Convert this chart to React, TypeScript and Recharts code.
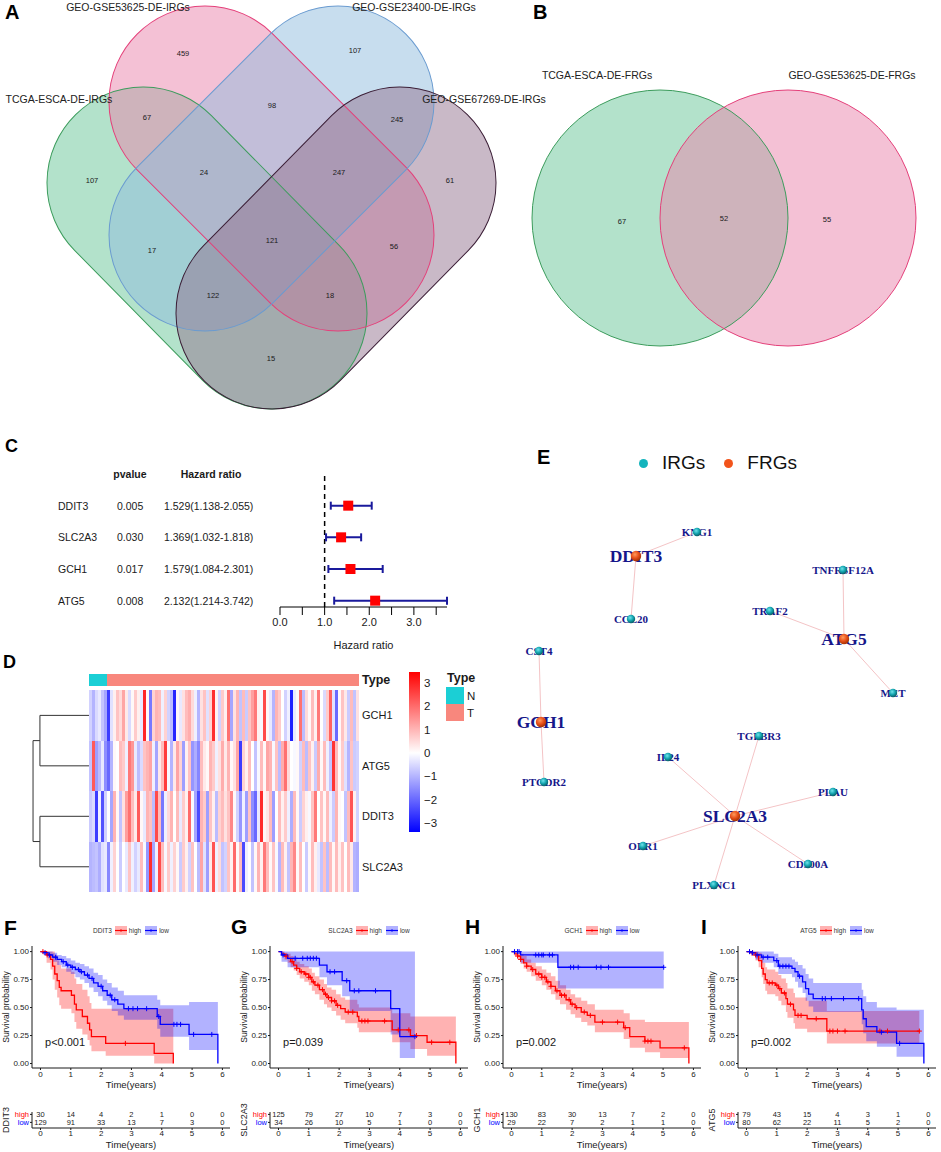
import React from 'react'
import {
  ScatterChart, Scatter, ComposedChart, Line, Area, BarChart, Bar, Cell,
  XAxis, YAxis, ReferenceLine, ErrorBar, Legend,
} from 'recharts'

const SANS = '"Liberation Sans", Arial, Helvetica, sans-serif'
const SERIF = '"Liberation Serif", "Times New Roman", Times, serif'
const INK = '#1a1a1a'

// ---------------- A: four-set venn ----------------
const VENN4_NAMES = ['TCGA-ESCA-DE-IRGs', 'GEO-GSE53625-DE-IRGs', 'GEO-GSE23400-DE-IRGs', 'GEO-GSE67269-DE-IRGs']
// regions: T=TCGA, P=GSE53625, B=GSE23400, D=GSE67269
const VENN4_REGIONS = ['P', 'B', 'TP', 'PB', 'BD', 'T', 'TPB', 'PBD', 'D', 'TPBD', 'TB', 'PD', 'TBD', 'TPD', 'TD']
const VENN4_COUNTS = [459, 107, 67, 98, 245, 107, 24, 247, 61, 121, 17, 56, 122, 18, 15]

// ---------------- B: two-set venn ----------------
const VENN2_NAMES = ['TCGA-ESCA-DE-FRGs', 'GEO-GSE53625-DE-FRGs']
const VENN2_COUNTS = [67, 52, 55]

// ---------------- C: forest plot ----------------
const FOREST_GENES = ['DDIT3', 'SLC2A3', 'GCH1', 'ATG5']
const FOREST_P = ['0.005', '0.030', '0.017', '0.008']
const FOREST_HR = [1.529, 1.369, 1.579, 2.132]
const FOREST_LOW = [1.138, 1.032, 1.084, 1.214]
const FOREST_HIGH = [2.055, 1.818, 2.301, 3.742]
const FOREST_TICKS = [0, 0.5, 1, 1.5, 2, 2.5, 3, 3.5]

// ---------------- D: heatmap (z-scores, one stripe per ~2 samples) ----------------
const HM_GENES = ['GCH1', 'ATG5', 'DDIT3', 'SLC2A3']
const HM_N_COLS = 6
const HM_GCH1 = [
  -0.6, -1.0, -0.5, -0.3, -0.8, -1.2, -2.6, -0.4, 0.2, 0.8, 0.5, 1.2, 0.3, -0.5, 0.1, 0.7, 0.2, -0.3, 2.9, 0.1, -1.8, 0.6, 1.0, 0.9, -0.2, 0.6, -0.6, -0.9, -2.9, 0.1, -0.3, 0.4, 0.9, 1.1, 0.5, -0.2, -1.0, 0.4, 0.8, -0.4, 0.6, 2.8, 0.2, -0.6, 0.7,
  0.2, 1.9, -1.2, 0.4, 1.0, -0.8, 0.9, -0.7, 0.8, 1.3, 1.8, 0.2, -0.1, 2.4, 0.1, -0.3, -1.0, 1.0, 0.7, 0.0, -0.6, -0.2, -3.0, -0.3, 0.1, 1.9, -0.9, 0.5, 0.1, 0.9, 0.2, 1.8, 0.0, -0.5, 0.7, 2.1, -0.4, -2.0, 0.1, 0.8, 0.3, -0.7, 0.9, -0.8, 0.4,
]
const HM_ATG5 = [
  -0.8, 2.2, -1.3, -0.9, -0.3, -1.5, -2.0, -1.0, 0.1, 0.0, 0.9, 0.7, -0.2, 1.8, 1.4, -0.3, -0.9, -0.5, 0.8, 1.0, 1.2, -0.2, -1.2, 0.3, 0.9, 2.6, -0.1, -1.0, 0.3, 1.2, 0.6, -1.3, 0.2, 0.8, -1.4, -1.1, -1.6, 0.9, 0.3, 0.1, 1.0, 0.7, -0.2, 0.4, 1.1,
  0.3, 1.0, 0.1, 0.4, 1.2, -2.6, 0.6, 0.2, 0.9, 0.0, -0.8, -0.1, 0.9, 0.1, 1.2, 1.0, -0.1, 0.8, -0.9, 1.1, 1.9, 0.5, 0.0, -0.1, 0.1, -0.6, 0.9, -0.9, 0.8, 0.2, -0.7, 1.1, 0.1, 0.9, -0.2, -0.8, 2.7, 0.9, 0.1, 0.7, -0.4, -1.0, 0.8, -0.7, -0.6,
]
const HM_DDIT3 = [
  -0.7, -0.5, -2.6, -0.2, -2.3, -0.6, 0.0, -1.2, 1.0, 0.1, -0.8, 0.4, 1.3, 1.9, 0.9, 0.3, 2.2, 0.1, -0.3, 1.0, 0.8, -0.9, 2.4, 0.9, -1.8, -0.2, 0.5, 1.0, 0.0, 0.9, -0.3, 0.7, 0.2, 2.0, -0.1, -1.2, -2.4, 1.0, 0.7, -1.3, 0.8, 0.2, -0.9, 0.6, 0.9,
  0.4, 0.8, 1.6, 0.1, -0.6, -1.4, -0.2, -1.3, 0.8, -1.5, -2.0, -0.3, 2.8, 0.1, 0.3, 0.9, -1.3, 0.0, 0.9, 0.2, 0.7, -0.2, -1.1, 0.9, 0.1, -0.7, 0.6, 0.2, -0.1, 0.8, 1.8, 0.0, 0.8, 0.1, 0.9, -0.2, -0.7, 1.0, 0.1, 0.0, -0.8, 0.9, 2.3, 0.2, -0.6,
]
const HM_SLC2A3 = [
  -1.0, -0.9, -0.8, -1.1, -0.4, -0.3, -1.6, -0.2, 0.6, 0.0, -0.7, 0.0, -0.3, 0.8, -0.2, -0.6, -0.3, 0.9, -0.1, -1.4, 2.8, -1.2, -0.2, 2.4, 0.9, -0.1, 0.7, -0.2, 0.6, 0.1, -0.7, 0.7, 0.2, -0.6, 0.8, 0.0, -0.9, 1.2, -0.4, -1.3, 0.3, 2.3, -0.2, 0.5, -0.8,
  -0.6, 0.8, 0.2, 2.0, 0.1, 0.9, -2.4, -0.2, 0.0, -0.8, 0.1, 1.0, 0.2, 1.8, 0.9, 0.1, 0.8, -0.1, -1.0, 0.9, 0.2, -0.8, 1.0, 1.6, 0.1, 0.9, 0.0, -0.7, 0.1, 0.9, 0.2, -0.3, -0.8, 0.8, -0.9, 0.9, 0.1, 0.9, 0.2, 0.8, 0.0, 0.9, 0.3, -1.0, -1.1,
]
const HM_SCALE_TICKS = [-3, -2, -1, 0, 1, 2, 3]
// cluster merge heights (GCH1+ATG5, DDIT3+SLC2A3, root)
const HM_DENDRO = [1.92, 1.92, 2.19]

// ---------------- E: network ----------------
const NET_NODES = ['KNG1', 'DDIT3', 'CCL20', 'TNFRSF12A', 'TRAF2', 'ATG5', 'MET', 'CST4', 'GCH1', 'PTGDR2', 'TGFBR3', 'IL24', 'PLAU', 'SLC2A3', 'OLR1', 'CD300A', 'PLXNC1']
const NET_FRGS = ['DDIT3', 'ATG5', 'GCH1', 'SLC2A3']
const NET_EDGES = [
  ['DDIT3', 'KNG1'], ['DDIT3', 'CCL20'], ['ATG5', 'TNFRSF12A'], ['ATG5', 'TRAF2'], ['ATG5', 'MET'],
  ['GCH1', 'CST4'], ['GCH1', 'PTGDR2'], ['SLC2A3', 'TGFBR3'], ['SLC2A3', 'IL24'], ['SLC2A3', 'PLAU'],
  ['SLC2A3', 'OLR1'], ['SLC2A3', 'CD300A'], ['SLC2A3', 'PLXNC1'],
]
// force layout coordinates of the nodes (same order as NET_NODES)
const NET_LAYOUT = [
  [217, 112], [156, 136], [151, 199], [363, 150], [290, 191], [364, 219], [413, 273], [59, 231], [61, 302],
  [64, 362], [279, 316], [188, 337], [353, 372], [255, 396], [163, 426], [328, 444], [234, 465],
]

// ---------------- F-I: Kaplan-Meier ([time, surv, lower, upper]) ----------------
const KM_TIMES = [0, 1, 2, 3, 4, 5, 6]
const KM_GROUPS = ['high', 'low']

const DDIT3_HIGH = [
  [0, 1, 1, 1], [0.2, 0.97, 0.9, 1], [0.33, 0.93, 0.84, 1], [0.4, 0.87, 0.75, 1], [0.47, 0.8, 0.66, 0.97],
  [0.55, 0.74, 0.59, 0.92], [0.62, 0.68, 0.52, 0.88], [0.68, 0.65, 0.49, 0.85], [1.02, 0.61, 0.45, 0.82],
  [1.12, 0.53, 0.37, 0.76], [1.18, 0.48, 0.31, 0.71], [1.38, 0.42, 0.26, 0.66], [1.55, 0.36, 0.21, 0.6],
  [1.62, 0.3, 0.16, 0.54], [1.68, 0.24, 0.11, 0.49], [2.15, 0.18, 0.07, 0.49], [3.75, 0.09, 0.0, 0.49], [4.38, 0, 0, 0],
]
const DDIT3_LOW = [
  [0, 1, 1, 1], [0.1, 0.99, 0.97, 1], [0.25, 0.97, 0.94, 1], [0.4, 0.95, 0.91, 0.99], [0.55, 0.93, 0.88, 0.97],
  [0.7, 0.91, 0.86, 0.96], [0.85, 0.88, 0.82, 0.94], [1.0, 0.86, 0.8, 0.92], [1.15, 0.84, 0.77, 0.9],
  [1.3, 0.82, 0.75, 0.89], [1.45, 0.79, 0.72, 0.87], [1.6, 0.76, 0.68, 0.85], [1.75, 0.72, 0.64, 0.81],
  [1.9, 0.69, 0.6, 0.79], [2.05, 0.65, 0.56, 0.75], [2.2, 0.61, 0.52, 0.72], [2.35, 0.57, 0.47, 0.68],
  [2.55, 0.53, 0.43, 0.65], [2.75, 0.49, 0.39, 0.61], [3.85, 0.42, 0.31, 0.57], [3.95, 0.35, 0.24, 0.52],
  [4.9, 0.26, 0.12, 0.55], [5.85, 0, 0, 0],
]
const DDIT3_HIGH_CENSOR = [0.08, 0.22, 2.8]
const DDIT3_LOW_CENSOR = [0.15, 0.3, 0.5, 0.75, 0.9, 1.05, 1.25, 1.35, 1.55, 1.7, 2.0, 2.3, 2.45, 2.9, 3.05, 3.2, 3.5, 3.9, 4.4, 4.5, 4.62, 5.05, 5.65]
const DDIT3_RISK_HIGH = [30, 14, 4, 2, 1, 0, 0]
const DDIT3_RISK_LOW = [129, 91, 33, 13, 7, 3, 0]

const SLC2A3_HIGH = [
  [0, 1, 1, 1], [0.1, 0.98, 0.96, 1], [0.2, 0.96, 0.93, 0.99], [0.3, 0.94, 0.9, 0.98], [0.4, 0.91, 0.86, 0.96],
  [0.5, 0.88, 0.83, 0.94], [0.6, 0.85, 0.79, 0.91], [0.7, 0.82, 0.76, 0.89], [0.85, 0.8, 0.73, 0.87],
  [1.0, 0.77, 0.7, 0.85], [1.1, 0.73, 0.65, 0.81], [1.2, 0.7, 0.62, 0.78], [1.35, 0.66, 0.57, 0.75],
  [1.5, 0.62, 0.53, 0.71], [1.6, 0.59, 0.5, 0.68], [1.75, 0.56, 0.47, 0.66], [1.9, 0.52, 0.43, 0.62],
  [2.05, 0.49, 0.39, 0.59], [2.2, 0.46, 0.36, 0.57], [2.6, 0.42, 0.32, 0.53], [2.65, 0.38, 0.28, 0.5],
  [3.75, 0.3, 0.19, 0.45], [4.35, 0.25, 0.13, 0.42], [4.9, 0.19, 0.07, 0.42], [5.85, 0, 0, 0],
]
const SLC2A3_LOW = [
  [0, 1, 1, 1], [0.1, 0.97, 0.91, 1], [0.3, 0.94, 0.86, 1], [1.35, 0.88, 0.77, 1], [1.6, 0.82, 0.7, 1],
  [2.1, 0.74, 0.6, 1], [2.35, 0.65, 0.47, 1], [3.7, 0.49, 0.26, 1], [4.0, 0.24, 0.05, 1], [4.5, 0.24, 0.05, 1],
]
const SLC2A3_HIGH_CENSOR = [0.25, 0.45, 0.6, 0.75, 0.9, 1.0, 1.05, 1.15, 1.3, 1.45, 1.55, 1.65, 1.75, 1.85, 1.95, 2.3, 2.45, 2.75, 2.85, 2.95, 3.5, 3.95, 4.3, 4.55, 5.05, 5.65]
const SLC2A3_LOW_CENSOR = [0.15, 0.55, 0.8, 0.95, 1.05, 1.15, 1.25, 1.7, 1.85, 2.25, 2.5, 2.65, 3.2, 4.5]
const SLC2A3_RISK_HIGH = [125, 79, 27, 10, 7, 3, 0]
const SLC2A3_RISK_LOW = [34, 26, 10, 5, 1, 0, 0]

const GCH1_HIGH = [
  [0, 1, 1, 1], [0.1, 0.98, 0.96, 1], [0.2, 0.96, 0.93, 0.99], [0.3, 0.93, 0.89, 0.98], [0.4, 0.9, 0.85, 0.96],
  [0.5, 0.87, 0.82, 0.93], [0.65, 0.84, 0.78, 0.9], [0.8, 0.8, 0.74, 0.87], [1.0, 0.77, 0.7, 0.84],
  [1.15, 0.73, 0.66, 0.81], [1.3, 0.69, 0.62, 0.78], [1.45, 0.65, 0.57, 0.74], [1.6, 0.61, 0.53, 0.7],
  [1.8, 0.57, 0.48, 0.66], [1.95, 0.53, 0.44, 0.62], [2.1, 0.5, 0.41, 0.59], [2.3, 0.46, 0.37, 0.56],
  [2.5, 0.43, 0.34, 0.53], [2.75, 0.37, 0.28, 0.48], [3.7, 0.32, 0.22, 0.45], [3.9, 0.24, 0.14, 0.39],
  [4.4, 0.2, 0.1, 0.37], [4.9, 0.14, 0.05, 0.37], [5.85, 0, 0, 0],
]
const GCH1_LOW = [[0, 1, 1, 1], [0.3, 0.97, 0.9, 1], [1.53, 0.86, 0.67, 1], [5.02, 0.86, 0.67, 1]]
const GCH1_HIGH_CENSOR = [0.2, 0.3, 0.5, 0.7, 0.9, 1.0, 1.1, 1.2, 1.3, 1.5, 1.65, 1.75, 1.9, 2.0, 2.15, 2.4, 2.6, 3.0, 3.5, 3.75, 4.4, 4.5, 4.6, 5.7]
const GCH1_LOW_CENSOR = [0.1, 0.2, 0.25, 0.8, 0.9, 1.0, 1.05, 1.25, 1.35, 1.95, 2.05, 2.2, 2.8, 2.95, 3.2, 5.02]
const GCH1_RISK_HIGH = [130, 83, 30, 13, 7, 2, 0]
const GCH1_RISK_LOW = [29, 22, 7, 2, 1, 1, 0]

const ATG5_HIGH = [
  [0, 1, 1, 1], [0.15, 0.99, 0.96, 1], [0.3, 0.97, 0.92, 1], [0.4, 0.92, 0.86, 0.99], [0.5, 0.85, 0.77, 0.94],
  [0.55, 0.8, 0.71, 0.9], [0.62, 0.75, 0.65, 0.86], [0.68, 0.72, 0.62, 0.84], [0.95, 0.7, 0.6, 0.82],
  [1.05, 0.67, 0.56, 0.79], [1.15, 0.63, 0.52, 0.76], [1.3, 0.58, 0.46, 0.72], [1.35, 0.53, 0.41, 0.67],
  [1.55, 0.48, 0.36, 0.63], [1.6, 0.43, 0.31, 0.59], [2.0, 0.4, 0.28, 0.56], [2.65, 0.29, 0.18, 0.47],
  [5.7, 0.29, 0.18, 0.47],
]
const ATG5_LOW = [
  [0, 1, 1, 1], [0.15, 0.99, 0.97, 1], [0.3, 0.97, 0.93, 1], [0.5, 0.95, 0.9, 1], [0.9, 0.92, 0.86, 0.98],
  [1.05, 0.87, 0.8, 0.95], [1.5, 0.85, 0.77, 0.93], [1.6, 0.82, 0.73, 0.91], [1.7, 0.78, 0.68, 0.88],
  [1.85, 0.73, 0.63, 0.85], [1.95, 0.67, 0.56, 0.8], [2.05, 0.62, 0.51, 0.76], [2.2, 0.58, 0.46, 0.72],
  [3.8, 0.48, 0.35, 0.66], [3.85, 0.4, 0.27, 0.6], [3.95, 0.33, 0.2, 0.55], [4.3, 0.28, 0.15, 0.5],
  [4.95, 0.18, 0.06, 0.48], [5.85, 0, 0, 0],
]
const ATG5_HIGH_CENSOR = [0.1, 0.2, 0.3, 0.75, 0.85, 1.0, 1.1, 1.25, 1.45, 1.7, 1.8, 2.3, 2.75, 2.85, 3.0, 3.25, 4.4, 4.65, 5.7]
const ATG5_LOW_CENSOR = [0.1, 0.2, 0.35, 0.55, 0.7, 1.0, 1.1, 1.2, 1.3, 1.4, 1.75, 2.5, 2.6, 2.8, 3.2, 3.7, 4.45, 5.05]
const ATG5_RISK_HIGH = [79, 43, 15, 4, 3, 1, 0]
const ATG5_RISK_LOW = [80, 62, 22, 11, 5, 2, 0]

const KM_PANELS = [
  { gene: 'DDIT3', p: 'p<0.001', high: DDIT3_HIGH, low: DDIT3_LOW, highCens: DDIT3_HIGH_CENSOR, lowCens: DDIT3_LOW_CENSOR, riskHigh: DDIT3_RISK_HIGH, riskLow: DDIT3_RISK_LOW },
  { gene: 'SLC2A3', p: 'p=0.039', high: SLC2A3_HIGH, low: SLC2A3_LOW, highCens: SLC2A3_HIGH_CENSOR, lowCens: SLC2A3_LOW_CENSOR, riskHigh: SLC2A3_RISK_HIGH, riskLow: SLC2A3_RISK_LOW },
  { gene: 'GCH1', p: 'p=0.002', high: GCH1_HIGH, low: GCH1_LOW, highCens: GCH1_HIGH_CENSOR, lowCens: GCH1_LOW_CENSOR, riskHigh: GCH1_RISK_HIGH, riskLow: GCH1_RISK_LOW },
  { gene: 'ATG5', p: 'p=0.002', high: ATG5_HIGH, low: ATG5_LOW, highCens: ATG5_HIGH_CENSOR, lowCens: ATG5_LOW_CENSOR, riskHigh: ATG5_RISK_HIGH, riskLow: ATG5_RISK_LOW },
]

// ---------------- layout / style ----------------
const VENN4_W = 560
const VENN4_H = 410
const VENN4_GEOM = [[143, 183, 271, 313], [205, 102, 338, 235], [338, 102, 205, 235], [400, 183, 272, 313]]
const VENN4_R = 96
const VENN4_FILL = ['#67C597', '#E983AB', '#8FBBDD', '#93738F']
const VENN4_STROKE = ['#3C9C5C', '#E4407A', '#6A9BD0', '#3B1E36']
const VENN4_NAME_POS = [[59, 99], [128, 7], [414, 7], [484, 99]]
const VENN4_COUNT_POS = [[183, 53], [355, 50], [147, 117], [272, 105], [397, 119], [92, 180], [204, 172], [339, 172], [450, 180], [272, 240], [152, 250], [394, 246], [213, 295], [330, 295], [271, 358]]

const VENN2_W = 461
const VENN2_H = 410
const VENN2_GEOM = [[180, 218], [308, 218]]
const VENN2_R = 128
const VENN2_NAME_POS = [[117, 75], [372, 75]]
const VENN2_COUNT_POS = [[142, 221], [244, 218], [347, 219]]

const NET_W = 461
const NET_H = 475
const KM_LEFTS = [0, 238, 471, 706]
const KM_DOMAIN: [number, number] = [-0.28, 6.25]
const KM_COLORS = ['#FF0000', '#0000FF']
const TYPE_COLORS = { N: '#1BCFD5', T: '#F8877D' }
// risk-table row positions on its small y scale (high above low)
const RISK_ROW_Y = [1.7, 0.7]

const heatColor = (v: number) => {
  const t = Math.min(Math.abs(v) / 3.4, 1)
  const c = Math.round(255 * (1 - t))
  return v >= 0 ? `rgb(255,${c},${c})` : `rgb(${c},${c},255)`
}

const labelShape = (size: number, extra: any = {}) => (p: any) => (
  <text x={p.cx} y={p.cy} textAnchor="middle" dominantBaseline="central" fontSize={size}
    fontFamily={SANS} fill={INK} {...extra}>{p.payload.label}</text>
)
const noShape = () => <g />

// ---------------- A ----------------
function VennFour() {
  const k = 1 // px per layout unit
  const sets = VENN4_NAMES.map((name, i) => {
    const [x1, y1, x2, y2] = VENN4_GEOM[i]
    return { name, i, x: (x1 + x2) / 2, y: (y1 + y2) / 2 }
  })
  const stadium = (mode: 'fill' | 'line') => (p: any) => {
    const i = p.payload.i
    const [x1, y1, x2, y2] = VENN4_GEOM[i]
    const len = Math.hypot(x2 - x1, y2 - y1) * k
    const r = VENN4_R * k
    const ang = (Math.atan2(y2 - y1, x2 - x1) * 180) / Math.PI
    return (
      <rect x={-len / 2 - r} y={-r} width={len + 2 * r} height={2 * r} rx={r} ry={r}
        transform={`translate(${p.cx},${p.cy}) rotate(${ang})`}
        fill={mode === 'fill' ? VENN4_FILL[i] : 'none'} fillOpacity={0.5}
        stroke={mode === 'line' ? VENN4_STROKE[i] : 'none'} strokeWidth={1} />
    )
  }
  const counts = VENN4_REGIONS.map((r, i) => ({ region: r, label: String(VENN4_COUNTS[i]), x: VENN4_COUNT_POS[i][0], y: VENN4_COUNT_POS[i][1] }))
  const names = VENN4_NAMES.map((n, i) => ({ label: n, x: VENN4_NAME_POS[i][0], y: VENN4_NAME_POS[i][1] }))
  return (
    <ScatterChart width={VENN4_W} height={VENN4_H} margin={{ top: 0, right: 0, bottom: 0, left: 0 }}>
      <XAxis type="number" dataKey="x" domain={[0, VENN4_W]} hide />
      <YAxis type="number" dataKey="y" domain={[0, VENN4_H]} reversed hide />
      <Scatter data={sets} shape={stadium('fill')} isAnimationActive={false} />
      <Scatter data={sets} shape={stadium('line')} isAnimationActive={false} />
      <Scatter data={counts} shape={labelShape(7.5)} isAnimationActive={false} />
      <Scatter data={names} shape={labelShape(10.5, { fill: '#222' })} isAnimationActive={false} />
    </ScatterChart>
  )
}

// ---------------- B ----------------
function VennTwo() {
  const sets = VENN2_NAMES.map((name, i) => ({ name, i, x: VENN2_GEOM[i][0], y: VENN2_GEOM[i][1] }))
  const circle = (mode: 'fill' | 'line') => (p: any) => {
    const i = p.payload.i
    return <circle cx={p.cx} cy={p.cy} r={VENN2_R} fill={mode === 'fill' ? VENN4_FILL[i] : 'none'} fillOpacity={0.5}
      stroke={mode === 'line' ? VENN4_STROKE[i] : 'none'} strokeWidth={1} />
  }
  const counts = VENN2_COUNTS.map((c, i) => ({ label: String(c), x: VENN2_COUNT_POS[i][0], y: VENN2_COUNT_POS[i][1] }))
  const names = VENN2_NAMES.map((n, i) => ({ label: n, x: VENN2_NAME_POS[i][0], y: VENN2_NAME_POS[i][1] }))
  return (
    <ScatterChart width={VENN2_W} height={VENN2_H} margin={{ top: 0, right: 0, bottom: 0, left: 0 }}>
      <XAxis type="number" dataKey="x" domain={[0, VENN2_W]} hide />
      <YAxis type="number" dataKey="y" domain={[0, VENN2_H]} reversed hide />
      <Scatter data={sets} shape={circle('fill')} isAnimationActive={false} />
      <Scatter data={sets} shape={circle('line')} isAnimationActive={false} />
      <Scatter data={counts} shape={labelShape(7.5)} isAnimationActive={false} />
      <Scatter data={names} shape={labelShape(10.5, { fill: '#222' })} isAnimationActive={false} />
    </ScatterChart>
  )
}

// ---------------- C ----------------
function Forest() {
  const rows = FOREST_GENES.map((g, i) => ({
    gene: g, row: i + 1, hr: FOREST_HR[i],
    err: [FOREST_HR[i] - FOREST_LOW[i], FOREST_HIGH[i] - FOREST_HR[i]],
  }))
  const txt = { fontFamily: SANS, fontSize: 10.5, fill: INK, dominantBaseline: 'central' as const }
  const tableTick = (p: any) => {
    const { y, payload } = p
    const v = payload.value
    if (v === 0) {
      return (
        <g>
          <text x={130} y={y} textAnchor="middle" fontWeight="bold" {...txt}>pvalue</text>
          <text x={211} y={y} textAnchor="middle" fontWeight="bold" {...txt}>Hazard ratio</text>
        </g>
      )
    }
    const i = v - 1
    return (
      <g>
        <text x={58} y={y} {...txt}>{FOREST_GENES[i]}</text>
        <text x={117} y={y} {...txt}>{FOREST_P[i]}</text>
        <text x={164} y={y} {...txt}>{`${FOREST_HR[i].toFixed(3)}(${FOREST_LOW[i].toFixed(3)}-${FOREST_HIGH[i].toFixed(3)})`}</text>
      </g>
    )
  }
  const square = (p: any) => <rect x={p.cx - 5} y={p.cy - 5} width={10} height={10} fill="#FF0000" />
  return (
    <ScatterChart width={480} height={237} margin={{ top: 59, right: 33, bottom: 0, left: 0 }}>
      <XAxis type="number" dataKey="hr" domain={[0, 3.5]} ticks={FOREST_TICKS} interval={0}
        tickFormatter={(v: number) => (Number.isInteger(v) ? v.toFixed(1) : '')}
        tickSize={8} tickMargin={3} height={45} stroke="#000" tick={{ fill: INK, fontSize: 11, fontFamily: SANS }}
        label={{ value: 'Hazard ratio', position: 'insideBottom', offset: 3, style: { fill: INK, fontSize: 11, fontFamily: SANS } }} />
      <YAxis type="number" dataKey="row" domain={[0, 4.2]} reversed ticks={[0, 1, 2, 3, 4]} interval={0}
        width={280} axisLine={false} tickLine={false} tick={tableTick} />
      <ReferenceLine x={1} stroke="#000" strokeDasharray="5 4" strokeWidth={1.5} />
      <Scatter data={rows} shape={square} isAnimationActive={false}>
        <ErrorBar dataKey="err" direction="x" width={4} stroke="#1A1A9C" strokeWidth={2} />
      </Scatter>
    </ScatterChart>
  )
}

// ---------------- D ----------------
const HM_VALUES: Record<string, number[]> = { GCH1: HM_GCH1, ATG5: HM_ATG5, DDIT3: HM_DDIT3, SLC2A3: HM_SLC2A3 }
const HM_ROW_CENTER = (g: string) => HM_GENES.length - 0.5 - HM_GENES.indexOf(g)

function Heatmap() {
  const data = HM_GCH1.map((_, i) => ({ id: i, SLC2A3: 1, DDIT3: 1, ATG5: 1, GCH1: 1, gap: 0.08, type: 0.24 }))
  const stackOrder = [...HM_GENES].reverse()
  const rowTick = (p: any) => {
    const v = p.payload.value
    const isType = v > 4
    const name = isType ? 'Type' : HM_GENES[HM_GENES.length - 1 - Math.floor(v)]
    return (
      <text x={p.x} y={p.y} dominantBaseline="central" fontFamily={SANS} fill={INK}
        fontSize={isType ? 12.5 : 11} fontWeight={isType ? 'bold' : 'normal'}>{name}</text>
    )
  }
  return (
    <BarChart width={340} height={218} data={data} margin={{ top: 0, right: 0, bottom: 0, left: 0 }} barCategoryGap={0} barGap={0}>
      <XAxis dataKey="id" hide />
      <YAxis type="number" orientation="right" domain={[0, 4.32]} ticks={[0.5, 1.5, 2.5, 3.5, 4.2]} interval={0}
        width={70} axisLine={false} tickLine={false} tickSize={0} tickMargin={3} tick={rowTick} />
      {stackOrder.map((g) => (
        <Bar key={g} dataKey={g} stackId="hm" isAnimationActive={false}>
          {HM_VALUES[g].map((v, i) => <Cell key={i} fill={heatColor(v)} shapeRendering="crispEdges" />)}
        </Bar>
      ))}
      <Bar dataKey="gap" stackId="hm" fill="none" isAnimationActive={false} />
      <Bar dataKey="type" stackId="hm" isAnimationActive={false}>
        {data.map((d) => <Cell key={d.id} fill={d.id < HM_N_COLS ? TYPE_COLORS.N : TYPE_COLORS.T} shapeRendering="crispEdges" />)}
      </Bar>
    </BarChart>
  )
}

function Dendrogram() {
  const [h1, h2, root] = HM_DENDRO
  const ya = HM_ROW_CENTER('GCH1'), yb = HM_ROW_CENTER('ATG5')
  const yc = HM_ROW_CENTER('DDIT3'), yd = HM_ROW_CENTER('SLC2A3')
  const m1 = (ya + yb) / 2, m2 = (yc + yd) / 2
  const links = [
    [{ h: 0, y: ya }, { h: h1, y: ya }, { h: h1, y: yb }, { h: 0, y: yb }],
    [{ h: 0, y: yc }, { h: h2, y: yc }, { h: h2, y: yd }, { h: 0, y: yd }],
    [{ h: h1, y: m1 }, { h: root, y: m1 }, { h: root, y: m2 }, { h: h2, y: m2 }],
  ]
  return (
    <ScatterChart width={69} height={218} margin={{ top: 0, right: 0, bottom: 0, left: 0 }}>
      <XAxis type="number" dataKey="h" domain={[0, 2.7]} reversed hide />
      <YAxis type="number" dataKey="y" domain={[0, 4.32]} hide />
      {links.map((l, i) => (
        <Scatter key={i} data={l} line={{ stroke: '#333', strokeWidth: 1 }} shape={noShape} isAnimationActive={false} />
      ))}
    </ScatterChart>
  )
}

function HeatScale() {
  return (
    <BarChart width={41} height={160} data={[{ k: 'z', range: [-3.39, 3.47] }]} margin={{ top: 0, right: 0, bottom: 0, left: 0 }} barCategoryGap={0}>
      <defs>
        <linearGradient id="hmRamp" x1="0" y1="0" x2="0" y2="1">
          <stop offset="0%" stopColor="#FF0000" />
          <stop offset="50.6%" stopColor="#FFFFFF" />
          <stop offset="100%" stopColor="#0000FF" />
        </linearGradient>
      </defs>
      <XAxis dataKey="k" hide />
      <YAxis type="number" orientation="right" domain={[-3.39, 3.47]} ticks={HM_SCALE_TICKS} interval={0} width={30}
        axisLine={false} tickLine={false} tickSize={0} tickMargin={4}
        tickFormatter={(v: number) => (v < 0 ? `\u2212${Math.abs(v)}` : String(v))}
        tick={{ fill: INK, fontSize: 11.5, fontFamily: SANS, textAnchor: 'start' }} />
      <Bar dataKey="range" fill="url(#hmRamp)" isAnimationActive={false} />
    </BarChart>
  )
}

function TypeLegend() {
  return (
    <svg width={40} height={55} style={{ position: 'absolute', left: 445, top: 668 }}>
      <text x={2} y={14} fontFamily={SANS} fontSize={12.5} fontWeight="bold" fill={INK}>Type</text>
      {(['N', 'T'] as const).map((t, i) => (
        <g key={t}>
          <rect x={1} y={19 + i * 17} width={18} height={17} fill={TYPE_COLORS[t]} />
          <text x={22} y={28 + i * 17} dominantBaseline="central" fontFamily={SANS} fontSize={11.5} fill={INK}>{t}</text>
        </g>
      ))}
    </svg>
  )
}

// ---------------- E ----------------
function Network() {
  const pos = (n: string) => {
    const [x, y] = NET_LAYOUT[NET_NODES.indexOf(n)]
    return { name: n, x, y }
  }
  const irgs = NET_NODES.filter((n) => !NET_FRGS.includes(n)).map(pos)
  const frgs = NET_NODES.filter((n) => NET_FRGS.includes(n)).map(pos)
  const node = (big: boolean) => (p: any) => (
    <g>
      <text x={p.cx} y={p.cy} textAnchor="middle" dominantBaseline="central" fontFamily={SERIF} fontWeight="bold"
        fontSize={big ? 17.5 : 11} fill="#16168A">{p.payload.name}</text>
      <circle cx={p.cx} cy={p.cy} r={big ? 5.2 : 4.2} fill={`url(#${big ? 'frgBall' : 'irgBall'})`} />
    </g>
  )
  const legend = () => (
    <div style={{ display: 'flex', justifyContent: 'center', alignItems: 'center', paddingLeft: 15, fontFamily: SANS, fontSize: 19, color: '#111', lineHeight: '22px' }}>
      {['IRGs', 'FRGs'].map((n, i) => (
        <React.Fragment key={n}>
          <svg width={9} height={9} style={{ marginRight: 14 }}><circle cx={4.5} cy={4.5} r={4.5} fill={i === 0 ? '#14B4BD' : '#F2541B'} /></svg>
          <span style={{ marginRight: i === 0 ? 19 : 0 }}>{n}</span>
        </React.Fragment>
      ))}
    </div>
  )
  return (
    <ScatterChart width={NET_W} height={NET_H} margin={{ top: 0, right: 0, bottom: 0, left: 0 }}>
      <defs>
        <radialGradient id="irgBall" cx="40%" cy="35%" r="65%">
          <stop offset="0%" stopColor="#6FE3EA" />
          <stop offset="55%" stopColor="#13A3AE" />
          <stop offset="100%" stopColor="#0A5E68" />
        </radialGradient>
        <radialGradient id="frgBall" cx="40%" cy="35%" r="65%">
          <stop offset="0%" stopColor="#FF9A5C" />
          <stop offset="55%" stopColor="#E8501A" />
          <stop offset="100%" stopColor="#A53306" />
        </radialGradient>
      </defs>
      <XAxis type="number" dataKey="x" domain={[0, NET_W]} hide />
      <YAxis type="number" dataKey="y" domain={[0, NET_H]} reversed hide />
      {NET_EDGES.map(([a, b], i) => (
        <Scatter key={`e${i}`} data={[pos(a), pos(b)]} line={{ stroke: '#F4C4C6', strokeWidth: 1 }} shape={noShape}
          legendType="none" isAnimationActive={false} />
      ))}
      <Scatter name="IRGs" data={irgs} fill="#14B4BD" shape={node(false)} isAnimationActive={false} />
      <Scatter name="FRGs" data={frgs} fill="#F2541B" shape={node(true)} isAnimationActive={false} />
      <Legend verticalAlign="middle" align="center" wrapperStyle={{ top: 32, left: 0, width: NET_W }} content={legend} />
    </ScatterChart>
  )
}

// ---------------- F-I ----------------
const stepAt = (curve: number[][], t: number) => {
  let s = 1
  for (const [ct, cs] of curve) if (ct <= t) s = cs
  return s
}

function KmPlot({ spec }: { spec: any }) {
  const line = (c: number[][]) => c.map(([t, s]) => ({ t, s }))
  const band = (c: number[][]) => c.map(([t, , lo, hi]) => ({ t, band: [lo, hi] }))
  const cens = (c: number[][], ts: number[]) => ts.map((t) => ({ t, s: stepAt(c, t) }))
  const plus = (color: string) => (p: any) => (
    <path d={`M${p.cx - 2.5},${p.cy}h5M${p.cx},${p.cy - 2.5}v5`} stroke={color} strokeWidth={1} />
  )
  const pText = (p: any) => (
    <text x={p.cx} y={p.cy} dominantBaseline="central" fontFamily={SANS} fontSize={11} fill={INK}>{p.payload.label}</text>
  )
  const legend = () => (
    <div style={{ display: 'flex', justifyContent: 'center', alignItems: 'center', fontFamily: SANS, fontSize: 6.5, color: '#333', lineHeight: '9px' }}>
      <span style={{ marginRight: 3 }}>{spec.gene}</span>
      {KM_GROUPS.map((g, i) => (
        <React.Fragment key={g}>
          <svg width={12} height={9} style={{ marginRight: 2 }}>
            <rect x={0} y={0} width={12} height={9} fill={KM_COLORS[i]} fillOpacity={0.3} />
            <line x1={0} y1={4.5} x2={12} y2={4.5} stroke={KM_COLORS[i]} strokeWidth={1.2} />
            <path d="M4.5,4.5h3M6,3v3" stroke={KM_COLORS[i]} strokeWidth={0.8} />
          </svg>
          <span style={{ marginRight: i === 0 ? 4 : 0 }}>{g}</span>
        </React.Fragment>
      ))}
    </div>
  )
  const axisText = { fill: INK, fontSize: 8, fontFamily: SANS }
  return (
    <ComposedChart width={235} height={172} margin={{ top: 24, right: 5, bottom: 0, left: 0 }}>
      <XAxis type="number" dataKey="t" domain={KM_DOMAIN} ticks={KM_TIMES} interval={0} allowDataOverflow
        tickSize={2} tickMargin={1} height={26} stroke={INK} tick={axisText}
        label={{ value: 'Time(years)', position: 'insideBottom', offset: 6, style: { fill: INK, fontSize: 9.5, fontFamily: SANS } }} />
      <YAxis type="number" domain={[-0.04, 1.05]} ticks={[0, 0.25, 0.5, 0.75, 1]} interval={0} allowDataOverflow
        tickFormatter={(v: number) => v.toFixed(2)} width={32} tickSize={2} tickMargin={1} stroke={INK} tick={axisText}
        label={{ value: 'Survival probability', angle: -90, position: 'insideLeft', offset: 6, style: { textAnchor: 'middle', fill: INK, fontSize: 8.5, fontFamily: SANS } }} />
      <Area data={band(spec.high)} dataKey="band" type="stepAfter" stroke="none" fill={KM_COLORS[0]} fillOpacity={0.3} isAnimationActive={false} />
      <Area data={band(spec.low)} dataKey="band" type="stepAfter" stroke="none" fill={KM_COLORS[1]} fillOpacity={0.3} isAnimationActive={false} />
      <Line data={line(spec.high)} dataKey="s" type="stepAfter" stroke={KM_COLORS[0]} strokeWidth={1.3} dot={false} isAnimationActive={false} />
      <Line data={line(spec.low)} dataKey="s" type="stepAfter" stroke={KM_COLORS[1]} strokeWidth={1.3} dot={false} isAnimationActive={false} />
      <Scatter data={cens(spec.high, spec.highCens)} dataKey="s" shape={plus(KM_COLORS[0])} isAnimationActive={false} />
      <Scatter data={cens(spec.low, spec.lowCens)} dataKey="s" shape={plus(KM_COLORS[1])} isAnimationActive={false} />
      <Scatter data={[{ t: 0.15, s: 0.19, label: spec.p }]} dataKey="s" shape={pText} isAnimationActive={false} />
      <Legend verticalAlign="middle" align="center" wrapperStyle={{ top: 3.5, left: 32, width: 198 }} content={legend} />
    </ComposedChart>
  )
}

function RiskTable({ spec }: { spec: any }) {
  const rows = [
    ...KM_TIMES.map((t, i) => ({ t, y: RISK_ROW_Y[0], label: String(spec.riskHigh[i]) })),
    ...KM_TIMES.map((t, i) => ({ t, y: RISK_ROW_Y[1], label: String(spec.riskLow[i]) })),
  ]
  const strata = (p: any) => {
    const isHigh = p.payload.value === RISK_ROW_Y[0]
    return (
      <text x={p.x} y={p.y} textAnchor="end" dominantBaseline="central" fontFamily={SANS} fontSize={7.5}
        fill={isHigh ? KM_COLORS[0] : KM_COLORS[1]}>{isHigh ? KM_GROUPS[0] : KM_GROUPS[1]}</text>
    )
  }
  return (
    <ScatterChart width={235} height={58} margin={{ top: 17, right: 5, bottom: 0, left: 0 }}>
      <XAxis type="number" dataKey="t" domain={KM_DOMAIN} ticks={KM_TIMES} interval={0} allowDataOverflow
        tickSize={2} tickMargin={0} height={25} stroke={INK} tick={{ fill: INK, fontSize: 8, fontFamily: SANS }}
        label={{ value: 'Time(years)', position: 'insideBottom', offset: 5, style: { fill: INK, fontSize: 9.5, fontFamily: SANS } }} />
      <YAxis type="number" dataKey="y" domain={[0, 2]} ticks={[RISK_ROW_Y[1], RISK_ROW_Y[0]]} interval={0} width={32}
        tickSize={2} tickMargin={1} stroke={INK} tick={strata}
        label={{ value: spec.gene, angle: -90, position: 'insideLeft', offset: 6, style: { textAnchor: 'middle', fill: INK, fontSize: 9, fontFamily: SANS } }} />
      <Scatter data={rows} shape={labelShape(7.5)} isAnimationActive={false} />
    </ScatterChart>
  )
}

// ---------------- page ----------------
const PANEL_LETTERS: [string, number, number, number][] = [
  ['A', 5, 19, 20], ['B', 533, 19, 20], ['C', 5, 452, 18], ['D', 3, 668, 18], ['E', 537, 464, 20],
  ['F', 4, 935, 21], ['G', 231, 934, 21], ['H', 465, 934, 21], ['I', 701, 934, 21],
]

const at = (left: number, top: number): React.CSSProperties => ({ position: 'absolute', left, top })

export default function App() {
  return (
    <div style={{ position: 'absolute', left: 0, top: 0, width: 941, height: 1152, background: '#fff', overflow: 'hidden', fontFamily: SANS }}>
      <div style={at(0, 0)}><VennFour /></div>
      <div style={at(480, 0)}><VennTwo /></div>
      <div style={at(0, 415)}><Forest /></div>
      <div style={at(20, 674)}><Dendrogram /></div>
      <div style={at(89, 674)}><Heatmap /></div>
      <div style={at(409, 672)}><HeatScale /></div>
      <TypeLegend />
      <div style={at(480, 420)}><Network /></div>
      {KM_PANELS.map((spec, i) => (
        <React.Fragment key={spec.gene}>
          <div style={at(KM_LEFTS[i], 922)}><KmPlot spec={spec} /></div>
          <div style={at(KM_LEFTS[i], 1095)}><RiskTable spec={spec} /></div>
        </React.Fragment>
      ))}
      <svg width={941} height={1152} style={{ position: 'absolute', left: 0, top: 0, pointerEvents: 'none' }}>
        {PANEL_LETTERS.map(([ch, x, y, s]) => (
          <text key={ch} x={x} y={y} fontFamily={SANS} fontWeight="bold" fontSize={s} fill="#000">{ch}</text>
        ))}
      </svg>
    </div>
  )
}
